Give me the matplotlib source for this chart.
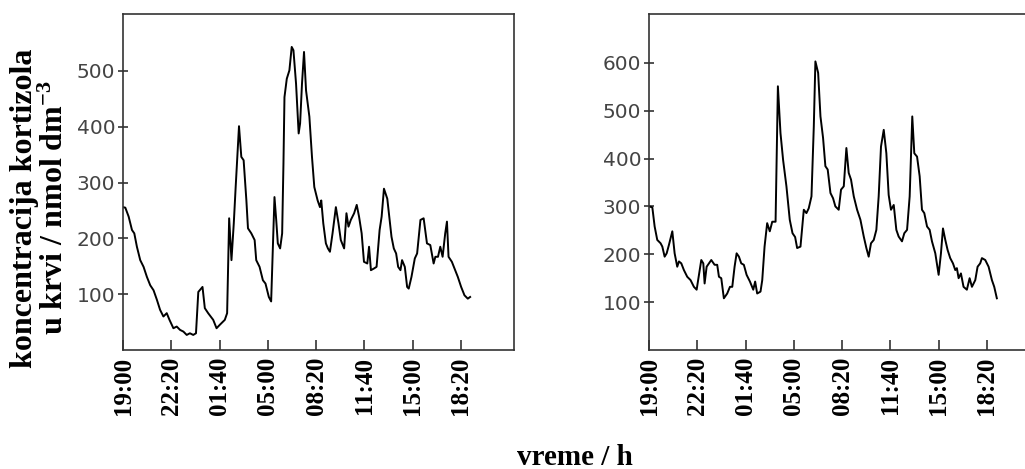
import matplotlib
matplotlib.use("Agg")
import matplotlib.pyplot as plt

plt.rcParams["mathtext.fontset"] = "custom"
plt.rcParams["mathtext.rm"] = "Liberation Serif:bold"
plt.rcParams["mathtext.it"] = "Liberation Serif:bold"
plt.rcParams["mathtext.bf"] = "Liberation Serif:bold"
plt.rcParams["mathtext.default"] = "rm"

# ---- data (hours since 19:00, cortisol nmol dm^-3) ----
t_left = [0, 0.16, 0.39, 0.62, 0.78, 0.96, 1.19, 1.42, 1.65, 1.88, 2.11, 2.34, 2.56, 2.79,
          3.02, 3.21, 3.48, 3.71, 3.94, 4.17, 4.40, 4.62, 4.85, 5.04, 5.20, 5.49, 5.65, 5.88,
          6.23, 6.46, 6.68, 7.03, 7.19, 7.33, 7.49, 7.65, 7.78, 8.01, 8.17, 8.33, 8.52, 8.63,
          8.86, 9.09, 9.20, 9.43, 9.66, 9.84, 10.07, 10.23, 10.46, 10.58, 10.69, 10.85, 10.99,
          11.08, 11.15, 11.31, 11.49, 11.65, 11.77, 11.95, 12.13, 12.23, 12.36, 12.50, 12.64,
          12.87, 13.05, 13.21, 13.44, 13.60, 13.69, 13.83, 14.01, 14.15, 14.29, 14.47, 14.70,
          14.88, 15.04, 15.27, 15.43, 15.57, 15.73, 15.96, 16.14, 16.30, 16.48, 16.64, 16.87,
          16.99, 17.12, 17.33, 17.51, 17.72, 17.86, 18.02, 18.25, 18.36, 18.54, 18.70, 18.86,
          19.00, 19.16, 19.27, 19.46, 19.62, 19.73, 19.92, 20.15, 20.31, 20.54, 20.76, 20.99,
          21.22, 21.45, 21.57, 21.75, 21.91, 22.07, 22.25, 22.37, 22.48, 22.71, 22.94, 23.12,
          23.35, 23.58, 23.81, 23.97]
c_left = [256, 255, 239, 215, 209, 185, 161, 149, 131, 116, 107, 90, 72, 60,
          66, 54, 39, 42, 36, 33, 27, 30, 27, 30, 104, 113, 75, 66,
          54, 39, 45, 54, 66, 236, 161, 227, 292, 401, 346, 340, 268, 218,
          209, 197, 161, 149, 125, 119, 95, 87, 274, 233, 191, 182, 209,
          334, 453, 486, 501, 543, 537, 477, 388, 406, 477, 534, 465,
          418, 346, 292, 268, 256, 268, 227, 191, 182, 176, 209, 256,
          227, 197, 182, 245, 221, 233, 245, 260, 239, 209, 158, 155,
          185, 143, 146, 149, 215, 239, 289, 271, 245, 203, 182, 173,
          149, 143, 161, 149, 113, 110, 131, 164, 173, 233, 236, 191,
          188, 155, 167, 167, 185, 167, 209, 230, 167, 158, 143, 131,
          113, 98, 92, 95]

t_right = [0, 0.23, 0.39, 0.57, 0.80, 0.92, 1.08, 1.22, 1.38, 1.61, 1.77, 1.95, 2.07, 2.23,
           2.41, 2.64, 2.87, 3.10, 3.29, 3.45, 3.61, 3.75, 3.84, 3.98, 4.14, 4.30, 4.53, 4.71,
           4.83, 4.99, 5.17, 5.40, 5.59, 5.75, 5.91, 6.05, 6.21, 6.37, 6.55, 6.74, 6.97, 7.20,
           7.33, 7.47, 7.70, 7.82, 7.98, 8.16, 8.34, 8.51, 8.74, 8.90, 9.08, 9.26, 9.49, 9.72,
           9.91, 10.09, 10.23, 10.46, 10.69, 10.87, 11.03, 11.22, 11.38, 11.49, 11.68, 11.84,
           12.02, 12.18, 12.34, 12.53, 12.71, 12.87, 13.10, 13.26, 13.45, 13.63, 13.79, 13.95,
           14.14, 14.37, 14.60, 14.83, 15.01, 15.17, 15.33, 15.52, 15.70, 15.86, 16.02, 16.21,
           16.39, 16.55, 16.71, 16.90, 17.08, 17.24, 17.47, 17.63, 17.82, 18.00, 18.18, 18.32,
           18.51, 18.69, 18.85, 19.01, 19.20, 19.38, 19.54, 19.77, 20.00, 20.16, 20.30, 20.46,
           20.62, 20.80, 20.99, 21.15, 21.26, 21.38, 21.54, 21.72, 21.95, 22.14, 22.30, 22.53,
           22.69, 22.87, 22.99, 23.22, 23.45, 23.68, 23.84, 24.02]
c_right = [300, 298, 258, 230, 223, 216, 195, 202, 220, 248, 202, 174, 185, 181,
           167, 153, 146, 132, 126, 157, 188, 181, 139, 174, 181, 188, 178, 178,
           153, 150, 108, 118, 132, 132, 174, 202, 195, 181, 178, 157, 143, 126,
           143, 118, 122, 146, 216, 265, 248, 268, 268, 551, 453, 397, 342, 272,
           244, 236, 213, 216, 293, 286, 296, 321, 467, 603, 579, 488,
           443, 384, 377, 328, 317, 300, 293, 335, 342, 422, 370, 356,
           321, 293, 272, 237, 213, 195, 223, 230, 251, 321, 425, 460,
           411, 324, 293, 303, 251, 237, 227, 244, 251, 321, 488, 411,
           404, 363, 293, 286, 258, 251, 227, 202, 157, 202, 254, 230,
           209, 192, 181, 167, 171, 150, 160, 132, 126, 150, 132, 146,
           174, 181, 192, 188, 174, 146, 132, 108]

tick_hours = [0, 10/3, 20/3, 10, 40/3, 50/3, 20, 70/3]
tick_labels = ["19:00", "22:20", "01:40", "05:00", "08:20", "11:40", "15:00", "18:20"]
yticks_left = [100, 200, 300, 400, 500]
yticks_right = [100, 200, 300, 400, 500, 600]

W, H = 1025, 469
fig = plt.figure(figsize=(W / 100, H / 100), dpi=100)

serif = ["Liberation Serif", "DejaVu Serif"]
spine_col = "#333333"


def setup(ax, yticks, ymax):
    ax.set_xlim(0, 27)
    ax.set_ylim(0, ymax)
    for s in ax.spines.values():
        s.set_color(spine_col)
        s.set_linewidth(1.2)
    ax.set_xticks(tick_hours)
    ax.set_xticklabels(tick_labels, rotation=90, fontfamily=serif,
                       fontweight="bold", fontsize=18, color="black")
    ax.set_yticks(yticks)
    ax.set_yticklabels([str(v) for v in yticks], fontfamily="DejaVu Sans",
                       fontsize=14.5, color="#444444")
    ax.tick_params(axis="x", direction="in", length=7, width=1.2,
                   color=spine_col, pad=5)
    ax.tick_params(axis="y", direction="inout", length=7, width=1.2,
                   color=spine_col, pad=2)


axw = 391 / W
axh = 336 / H
bottom = 1 - 350 / H

ax1 = fig.add_axes([123 / W, bottom, axw, axh])
ax1.plot(t_left, c_left, color="black", lw=1.4)
setup(ax1, yticks_left, 602)

ax2 = fig.add_axes([649 / W, bottom, axw, axh])
ax2.plot(t_right, c_right, color="black", lw=1.4)
setup(ax2, yticks_right, 702)

fig.text(40 / W, 1 - 208 / H,
         "koncentracija kortizola\nu krvi / nmol dm$^{-3}$",
         rotation=90, ha="center", va="center", multialignment="center",
         fontfamily=serif, fontweight="bold", fontsize=23, linespacing=1.1)
fig.text(575 / W, 1 - 457 / H, "vreme / h", ha="center", va="center",
         fontfamily=serif, fontweight="bold", fontsize=21)

fig.savefig("out.png", dpi=100)
